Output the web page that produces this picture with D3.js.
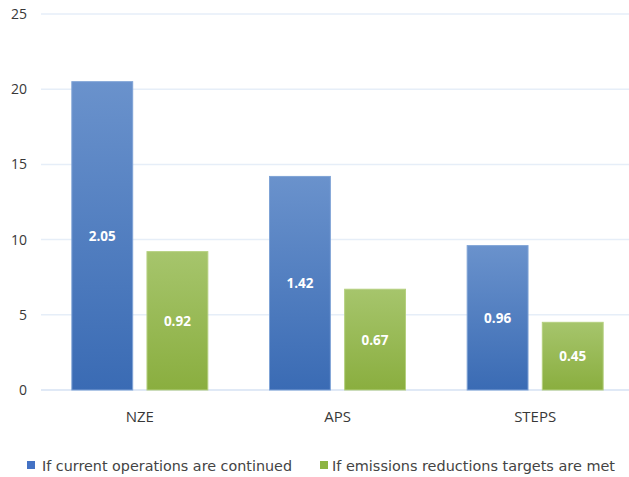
<!DOCTYPE html>
<html lang="en">
<head>
<meta charset="UTF-8">
<title>Scenario comparison</title>
<script src="https://d3js.org/d3.v7.min.js"></script>
<style>
    body { margin: 0; background: #fff; font-family: "Open Sans", Arial, sans-serif; }
    .tick text { fill: #383838; }
</style>
</head>
<body>
<div id="chart"></div>
<script>
const categories = ["NZE", "APS", "STEPS"];
const seriesNames = ["If current operations are continued", "If emissions reductions targets are met"];
const currentOps = [20.5, 14.2, 9.6];
const targetsMet = [9.2, 6.7, 4.5];
const labelsCurrent = ["2.05", "1.42", "0.96"];
const labelsTargets = ["0.92", "0.67", "0.45"];
const yTicks = [0, 5, 10, 15, 20, 25];

const W = 629, H = 477;
const svg = d3.select("#chart").append("svg")
    .attr("width", W).attr("height", H);

const defs = svg.append("defs");
const grads = [
    { id: "gBlue", top: "#6a92cc", bottom: "#3a6bb4" },
    { id: "gGreen", top: "#a6c56c", bottom: "#8aae3f" }
];
grads.forEach(g => {
    const lg = defs.append("linearGradient").attr("id", g.id)
        .attr("x1", 0).attr("y1", 0).attr("x2", 0).attr("y2", 1);
    lg.append("stop").attr("offset", "0%").attr("stop-color", g.top);
    lg.append("stop").attr("offset", "100%").attr("stop-color", g.bottom);
});
const fills = ["url(#gBlue)", "url(#gGreen)"];
const strokes = ["#7fa3d6", "#b5d07f"];
const legendColors = ["#4472c4", "#8db443"];

const x0 = d3.scaleBand().domain(categories).range([41, 634]).paddingInner(0).paddingOuter(0);
const x1 = d3.scaleBand().domain([0, 1]).range([0, 136]).paddingInner(0.19);
const y = d3.scaleLinear().domain([0, 25]).range([390, 14]);

// gridlines
svg.append("g")
    .selectAll("line")
    .data(yTicks)
    .join("line")
    .attr("x1", 41).attr("x2", W)
    .attr("y1", d => y(d)).attr("y2", d => y(d))
    .attr("stroke", d => d === 0 ? "#d6e2f3" : "#e6eef8")
    .attr("stroke-width", 1.5);

// y axis labels
svg.append("g")
    .attr("transform", "translate(27,0)")
    .call(d3.axisLeft(y).tickValues(yTicks).tickSize(0).tickPadding(0))
    .call(g => g.select(".domain").remove())
    .selectAll("text")
    .attr("font-size", 14)
    .attr("font-family", "Open Sans, Arial, sans-serif");

// x axis labels
svg.append("g")
    .attr("transform", "translate(0,403)")
    .call(d3.axisBottom(x0).tickSize(0).tickPadding(8))
    .call(g => g.select(".domain").remove())
    .selectAll("text")
    .attr("font-size", 15)
    .attr("font-family", "Open Sans, Arial, sans-serif");

const rows = categories.map((c, i) => ({
    cat: c,
    vals: [
        { s: 0, v: currentOps[i], label: labelsCurrent[i] },
        { s: 1, v: targetsMet[i], label: labelsTargets[i] }
    ]
}));

const groups = svg.append("g")
    .selectAll("g")
    .data(rows)
    .join("g")
    .attr("transform", d => `translate(${x0(d.cat) + (x0.bandwidth() - 136) / 2},0)`);

groups.selectAll("rect")
    .data(d => d.vals)
    .join("rect")
    .attr("x", d => x1(d.s))
    .attr("width", x1.bandwidth())
    .attr("y", d => y(d.v))
    .attr("height", d => y(0) - y(d.v))
    .attr("fill", d => fills[d.s])
    .attr("stroke", d => strokes[d.s])
    .attr("stroke-width", 1);

groups.selectAll("text")
    .data(d => d.vals)
    .join("text")
    .attr("x", d => x1(d.s) + x1.bandwidth() / 2)
    .attr("y", d => (y(d.v) + y(0)) / 2 + 5)
    .attr("text-anchor", "middle")
    .attr("fill", "#fff")
    .attr("font-weight", "bold")
    .attr("font-size", 13.5)
    .text(d => d.label);

// legend
const legendX = [27, 320];
const legendW = [250, 283];
const legend = svg.append("g");
seriesNames.forEach((name, i) => {
    legend.append("rect")
        .attr("x", legendX[i]).attr("y", 461)
        .attr("width", 8).attr("height", 8)
        .attr("fill", legendColors[i]);
    legend.append("text")
        .attr("x", legendX[i] + (i === 0 ? 15 : 12)).attr("y", 471)
        .attr("font-size", 13.5)
        .attr("font-family", "DejaVu Sans, Verdana, sans-serif")
        .attr("fill", "#444")
        .attr("textLength", legendW[i])
        .attr("lengthAdjust", "spacingAndGlyphs")
        .text(name);
});
</script>
</body>
</html>
